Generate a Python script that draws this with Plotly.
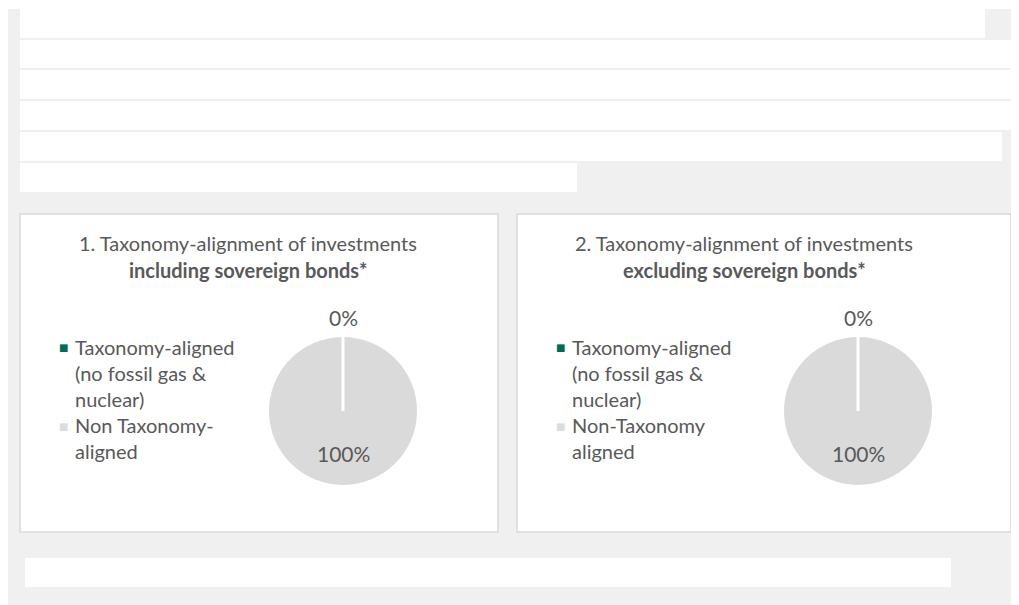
import plotly.graph_objects as go

# The page body has an 8px margin, so the figure is placed at (8, 8) in the window.
OFF = 8
W, H = 1019 - OFF, 605 - OFF

# ---- data ----
categories = ["Taxonomy-aligned (no fossil gas & nuclear)", "Non Taxonomy-aligned"]
legend_text_1 = ["Taxonomy-aligned<br>(no fossil gas &<br>nuclear)", "Non Taxonomy-<br>aligned"]
legend_text_2 = ["Taxonomy-aligned<br>(no fossil gas &<br>nuclear)", "Non-Taxonomy<br>aligned"]
values_incl_sov = [0, 100]
values_excl_sov = [0, 100]
slice_colors = ["#006b59", "#dadada"]
legend_colors = ["#006b59", "#dcdcdc"]
title_1 = ["1. Taxonomy-alignment of investments", "including sovereign bonds*"]
title_2 = ["2. Taxonomy-alignment of investments", "excluding sovereign bonds*"]

FONT = "Lato"
TXT = "#595959"


def px(x):
    return (x - OFF) / W


def py(y):
    return 1 - (y - OFF) / H


fig = go.Figure()

panels = [
    dict(vals=values_incl_sov, legend=legend_text_1, title=title_1,
         cx=343, cy=411, r=74, tcx=248, lx=63),
    dict(vals=values_excl_sov, legend=legend_text_2, title=title_2,
         cx=858, cy=411, r=74, tcx=744, lx=560),
]

shapes = []
annotations = []

# page background
shapes.append(dict(type="rect", xref="paper", yref="paper", x0=px(6), x1=px(1019),
                   y0=py(605), y1=py(9), fillcolor="#f0f0f0", line=dict(width=0), layer="below"))
# white text bands (redacted text lines)
bands = [(20, 985, 9, 38), (20, 1014, 40, 68), (20, 1019, 70, 99), (20, 1019, 101, 130),
         (20, 1002, 132, 161), (20, 577, 163, 192), (25, 951, 558, 587)]
for x0, x1, y0, y1 in bands:
    shapes.append(dict(type="rect", xref="paper", yref="paper", x0=px(x0), x1=px(x1),
                       y0=py(y1), y1=py(y0), fillcolor="white", line=dict(width=0), layer="below"))
# panels
for x0, x1 in [(20, 498), (517, 1011)]:
    shapes.append(dict(type="rect", xref="paper", yref="paper", x0=px(x0), x1=px(x1),
                       y0=py(532), y1=py(214), fillcolor="white",
                       line=dict(color="#d9d9d9", width=1.5), layer="below"))

for p in panels:
    cx, cy, r = p["cx"], p["cy"], p["r"]
    fig.add_trace(go.Pie(
        labels=categories, values=p["vals"], sort=False, direction="clockwise", rotation=0,
        marker=dict(colors=slice_colors, line=dict(width=0)),
        textinfo="none", hoverinfo="label+percent", showlegend=False,
        domain=dict(x=[px(cx - r), px(cx + r)], y=[py(cy + r), py(cy - r)]),
    ))
    # white separator for the zero slice
    shapes.append(dict(type="line", xref="paper", yref="paper", x0=px(cx), x1=px(cx),
                       y0=py(cy), y1=py(cy - r), line=dict(color="white", width=3), layer="above"))
    total = sum(p["vals"])
    # data labels
    annotations.append(dict(xref="paper", yref="paper", x=px(cx), y=py(317),
                            text=f"{round(100 * p['vals'][0] / total)}%", showarrow=False,
                            font=dict(family=FONT, size=21, color=TXT), xanchor="center", yanchor="middle"))
    annotations.append(dict(xref="paper", yref="paper", x=px(cx), y=py(453),
                            text=f"{round(100 * p['vals'][1] / total)}%", showarrow=False,
                            font=dict(family=FONT, size=21, color=TXT), xanchor="center", yanchor="middle"))
    # title
    annotations.append(dict(xref="paper", yref="paper", x=px(p["tcx"]), y=py(243),
                            text=p["title"][0], showarrow=False,
                            font=dict(family=FONT, size=20, color=TXT), xanchor="center", yanchor="middle"))
    annotations.append(dict(xref="paper", yref="paper", x=px(p["tcx"]), y=py(270),
                            text=f"<b>{p['title'][1]}</b>", showarrow=False,
                            font=dict(family=FONT, size=20, color=TXT), xanchor="center", yanchor="middle"))
    # legend
    for i, (txt, top) in enumerate(zip(p["legend"], [334, 412])):
        annotations.append(dict(xref="paper", yref="paper", x=px(p["lx"]), y=py(top + 14),
                                text="■", showarrow=False,
                                font=dict(family="DejaVu Sans", size=10, color=legend_colors[i]),
                                xanchor="center", yanchor="middle"))
        annotations.append(dict(xref="paper", yref="paper", x=px(p["lx"] + 11), y=py(top),
                                text=txt, showarrow=False, align="left", borderpad=0,
                                font=dict(family=FONT, size=20, color=TXT),
                                xanchor="left", yanchor="top"))

fig.update_layout(
    width=W, height=H, margin=dict(l=0, r=0, t=0, b=0),
    paper_bgcolor="white", plot_bgcolor="white",
    shapes=shapes, annotations=annotations,
)

fig.write_html("out.html")
